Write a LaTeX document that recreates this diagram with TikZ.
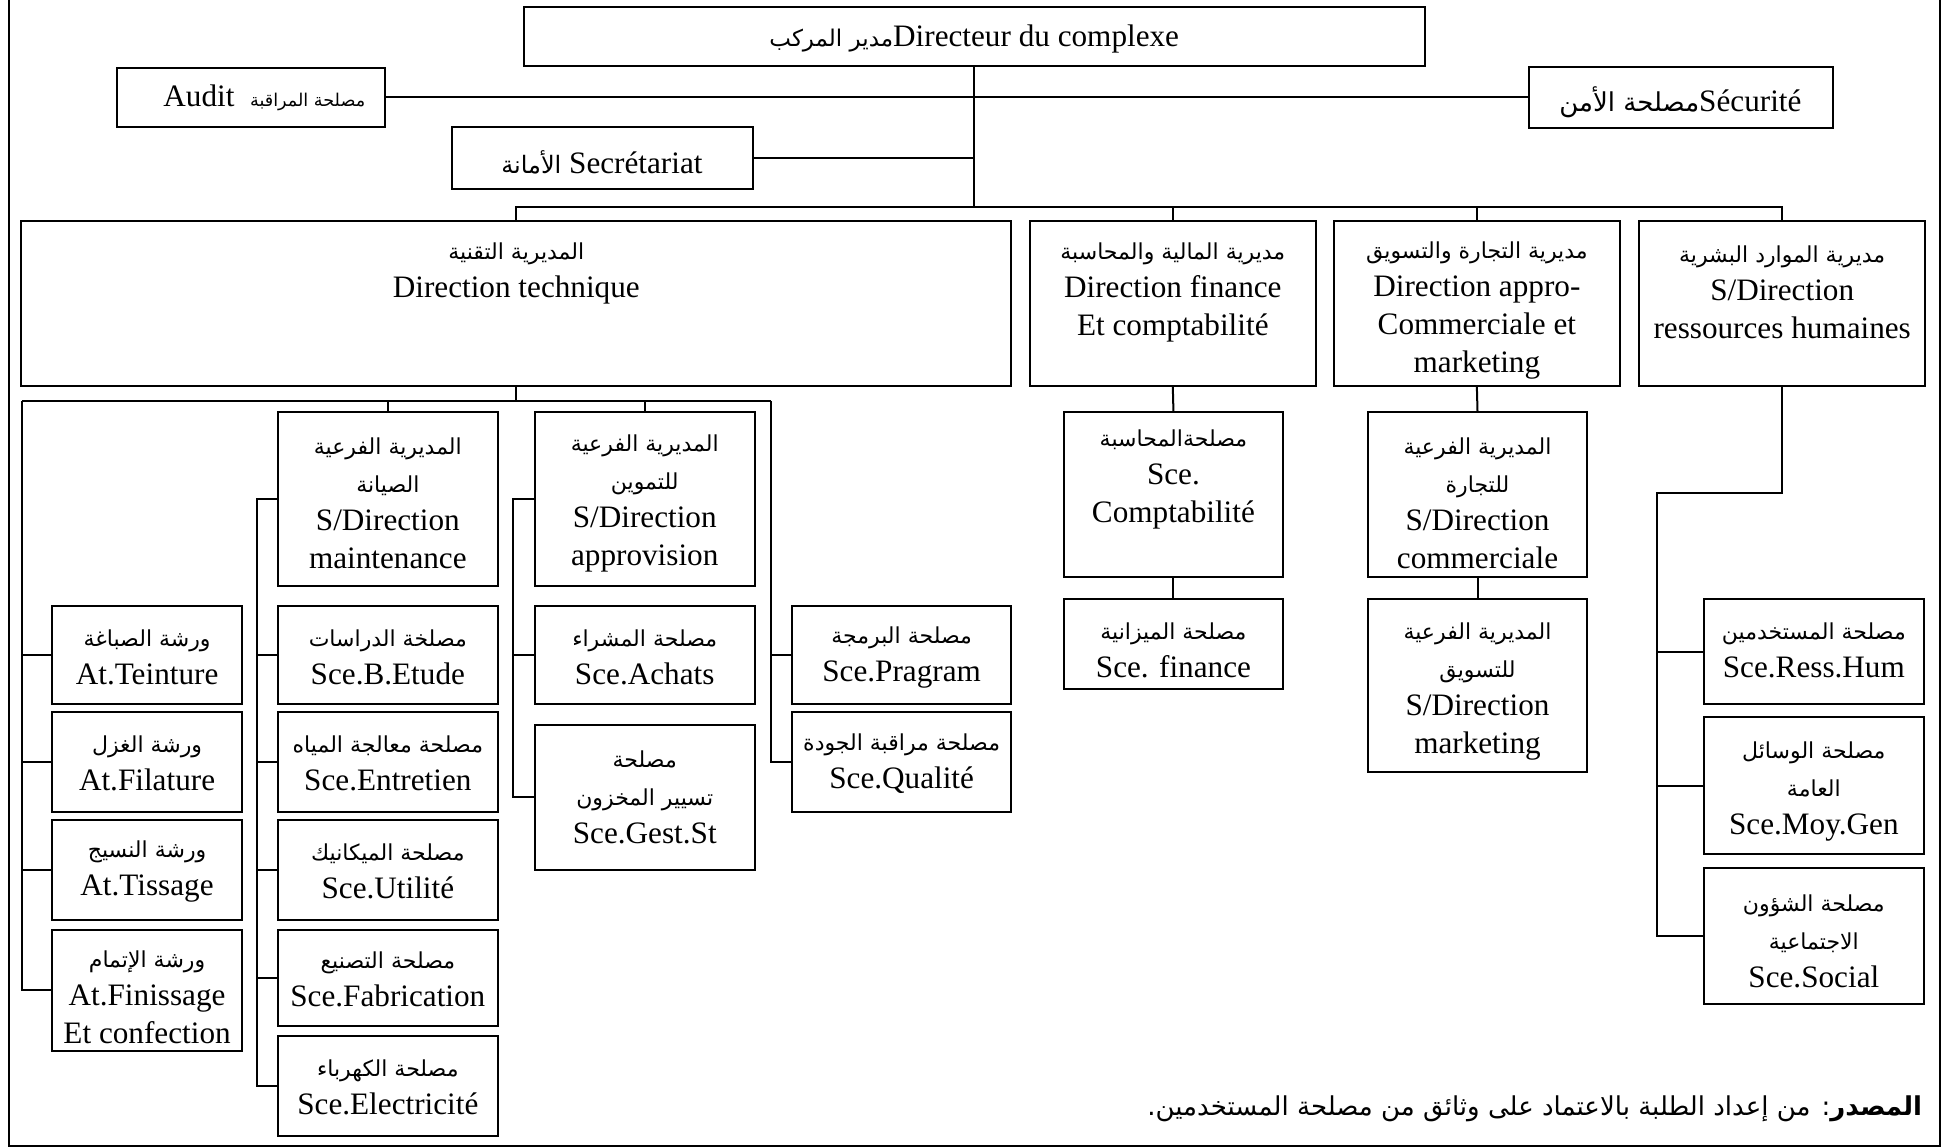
\documentclass[tikz,border=0pt]{standalone}
\usepackage{fontspec}
\setmainfont{Liberation Serif}
\newfontfamily\arabicfont[Script=Arabic]{DejaVu Sans}
\TeXXeTstate=1
\newcommand\latf{\fontsize{15.6}{19}\selectfont}
\newcommand\arf{\arabicfont\fontsize{11}{19}\selectfont}
\newcommand\artxt[1]{{\arf\beginR #1\endR}}
\begin{document}
\begin{tikzpicture}[x=0.6205pt,y=-0.6205pt,
  bx/.style n args={4}{draw, line width=1pt, inner sep=0pt,
    minimum width={(#3-#1)*0.6205pt}, minimum height={(#4-#2)*0.6205pt},
    at={({(#1+#3)/2},{(#2+#4)/2})}},
  tx/.style={align=center, inner sep=0pt, font=\latf, yshift=-1.5pt},
  link/.style={line width=1pt}]
\useasboundingbox (0,0) rectangle (1568,925);

% outer frame, open at the top
\draw[line width=1.3pt] (7.25,-10) -- (7.25,923.5) -- (1563.3,923.5) -- (1563.3,-10);

% top level
\node[bx={422}{6}{1148}{53}] (dir) {};
\node[tx] (dir-t) at (785,29)
  {{\arabicfont\fontsize{11.5}{19}\selectfont\beginR مدير المركب\endR}Directeur du complexe};
\node[bx={94}{55}{310}{102}] (audit) {};
\node[tx] (audit-t) at (213,76)
  {Audit\enspace{\arabicfont\fontsize{8.8}{19}\selectfont\beginR مصلحة المراقبة\endR}};
\node[bx={1232}{54}{1477}{103}] (secu) {};
\node[tx] (secu-t) at (1354,80)
  {{\arabicfont\fontsize{13}{19}\selectfont\beginR مصلحة الأمن\endR}Sécurité};
\node[bx={364}{102}{607}{152}] (secr) {};
\node[tx] (secr-t) at (485,128)
  {{\arabicfont\fontsize{12}{19}\selectfont\beginR الأمانة\endR} Secrétariat};

% directions
\node[bx={17}{178}{815}{311}] (dt) {};
\node[tx] (dt-t) at (416,218) {\artxt{المديرية التقنية}\\Direction technique};
\node[bx={830}{178}{1060}{311}] (fin) {};
\node[tx] (fin-t) at (945,233) {\artxt{مديرية المالية والمحاسبة}\\Direction finance\\Et comptabilité};
\node[bx={1075}{178}{1305}{311}] (com) {};
\node[tx] (com-t) at (1190,248) {\artxt{مديرية التجارة والتسويق}\\Direction appro-\\Commerciale et\\marketing};
\node[bx={1321}{178}{1551}{311}] (hr) {};
\node[tx] (hr-t) at (1436,233) {\artxt{مديرية الموارد البشرية}\\S/Direction\\ressources humaines};

% technical direction: sub-directions
\node[bx={224}{332}{401}{472}] (maint) {};
\node[tx] (maint-t) at (312.5,403) {\artxt{المديرية الفرعية}\\\artxt{الصيانة}\\S/Direction\\maintenance};
\node[bx={431}{332}{608}{472}] (appro) {};
\node[tx] (appro-t) at (519.5,403) {\artxt{المديرية الفرعية}\\\artxt{للتموين}\\S/Direction\\approvision};

% workshops
\node[bx={42}{488}{195}{567}] (tein) {};
\node[tx] (tein-t) at (118.5,527) {\artxt{ورشة الصباغة}\\At.Teinture};
\node[bx={42}{574}{195}{654}] (fila) {};
\node[tx] (fila-t) at (118.5,613) {\artxt{ورشة الغزل}\\At.Filature};
\node[bx={42}{661}{195}{741}] (tiss) {};
\node[tx] (tiss-t) at (118.5,700) {\artxt{ورشة النسيج}\\At.Tissage};
\node[bx={42}{749}{195}{847}] (fini) {};
\node[tx] (fini-t) at (118.5,801) {\artxt{ورشة الإتمام}\\At.Finissage\\Et confection};

% maintenance services
\node[bx={224}{488}{401}{567}] (etude) {};
\node[tx] (etude-t) at (312.5,527) {\artxt{مصلخة الدراسات}\\Sce.B.Etude};
\node[bx={224}{574}{401}{654}] (entr) {};
\node[tx] (entr-t) at (312.5,613) {\artxt{مصلحة معالجة المياه}\\Sce.Entretien};
\node[bx={224}{661}{401}{741}] (util) {};
\node[tx] (util-t) at (312.5,700) {\artxt{مصلحة الميكانيك}\\Sce.Utilité};
\node[bx={224}{749}{401}{827}] (fab) {};
\node[tx] (fab-t) at (312.5,786.5) {\artxt{مصلحة التصنيع}\\Sce.Fabrication};
\node[bx={224}{835}{401}{915}] (elec) {};
\node[tx] (elec-t) at (312.5,873.5) {\artxt{مصلحة الكهرباء}\\Sce.Electricité};

% supply services
\node[bx={431}{488}{608}{567}] (achats) {};
\node[tx] (achats-t) at (519.5,527) {\artxt{مصلحة المشراء}\\Sce.Achats};
\node[bx={431}{584}{608}{701}] (gest) {};
\node[tx] (gest-t) at (519.5,640) {\artxt{مصلحة}\\\artxt{تسيير المخزون}\\Sce.Gest.St};

% services attached directly
\node[bx={638}{488}{815}{567}] (prag) {};
\node[tx] (prag-t) at (726.5,527) {\artxt{مصلحة البرمجة}\\Sce.Pragram};
\node[bx={638}{574}{815}{654}] (qual) {};
\node[tx] (qual-t) at (726.5,613) {\artxt{مصلحة مراقبة الجودة}\\Sce.Qualité};

% finance
\node[bx={857}{332}{1034}{465}] (compta) {};
\node[tx] (compta-t) at (945.5,384) {\artxt{مصلحةالمحاسبة}\\Sce.\\Comptabilité};
\node[bx={857}{483}{1034}{555}] (budget) {};
\node[tx] (budget-t) at (945.5,522) {\artxt{مصلحة الميزانية}\\Sce. finance};

% commerce
\node[bx={1102}{332}{1279}{465}] (scom) {};
\node[tx] (scom-t) at (1190.5,403) {\artxt{المديرية الفرعية}\\\artxt{للتجارة}\\S/Direction\\commerciale};
\node[bx={1102}{483}{1279}{622}] (mkt) {};
\node[tx] (mkt-t) at (1190.5,555) {\artxt{المديرية الفرعية}\\\artxt{للتسويق}\\S/Direction\\marketing};

% human resources
\node[bx={1373}{483}{1550}{567}] (rh) {};
\node[tx] (rh-t) at (1461.5,522) {\artxt{مصلحة المستخدمين}\\Sce.Ress.Hum};
\node[bx={1373}{578}{1550}{688}] (moy) {};
\node[tx] (moy-t) at (1461.5,635) {\artxt{مصلحة الوسائل}\\\artxt{العامة}\\Sce.Moy.Gen};
\node[bx={1373}{699}{1550}{809}] (soc) {};
\node[tx] (soc-t) at (1461.5,756) {\artxt{مصلحة الشؤون}\\\artxt{الاجتماعية}\\Sce.Social};

% source note
\node[tx, anchor=east] (src) at (1549,891)
  {{\arabicfont\fontsize{13}{19}\selectfont\beginR{\bfseries المصدر}: من إعداد الطلبة بالاعتماد على وثائق من مصلحة المستخدمين.\endR}};

% junction points
\coordinate (jt) at (785,167);
\coordinate (cl) at (18,323);
\coordinate (cr) at (621,323);
\coordinate (ch) at (1335,397);

% connectors: top level
\draw[link] (audit.east) -- (secu.west);
\draw[link] (dir.south) -- (jt);
\draw[link] (secr.east) -- (secr.east -| jt);
\draw[link] (dt.north) |- (jt) -| (hr.north);
\draw[link] (fin.north) -- (fin.north |- jt);
\draw[link] (com.north) -- (com.north |- jt);

% connectors: technical direction
\draw[link] (dt.south) -- (dt.south |- cl);
\draw[link] (cl) -- (cr);
\draw[link] (maint.north) -- (maint.north |- cl);
\draw[link] (appro.north) -- (appro.north |- cl);
\draw[link] (cl) |- (fini.west);
\draw[link] (cl |- tein.west) -- (tein.west);
\draw[link] (cl |- fila.west) -- (fila.west);
\draw[link] (cl |- tiss.west) -- (tiss.west);
\draw[link] (maint.west) -- ++(-16,0) |- (elec.west);
\draw[link] (etude.west) -- ++(-16,0);
\draw[link] (entr.west) -- ++(-16,0);
\draw[link] (util.west) -- ++(-16,0);
\draw[link] (fab.west) -- ++(-16,0);
\draw[link] (appro.west) -- ++(-17,0) |- (gest.west);
\draw[link] (achats.west) -- ++(-17,0);
\draw[link] (cr) |- (qual.west);
\draw[link] (cr |- prag.west) -- (prag.west);

% connectors: finance and commerce
\draw[link] (fin.south) -- (compta.north);
\draw[link] (compta.south) -- (budget.north);
\draw[link] (com.south) -- (scom.north);
\draw[link] (scom.south) -- (mkt.north);

% connectors: human resources
\draw[link] (hr.south) |- (ch) |- (soc.west);
\draw[link] (ch |- rh.west) -- (rh.west);
\draw[link] (ch |- moy.west) -- (moy.west);
\end{tikzpicture}
\end{document}
